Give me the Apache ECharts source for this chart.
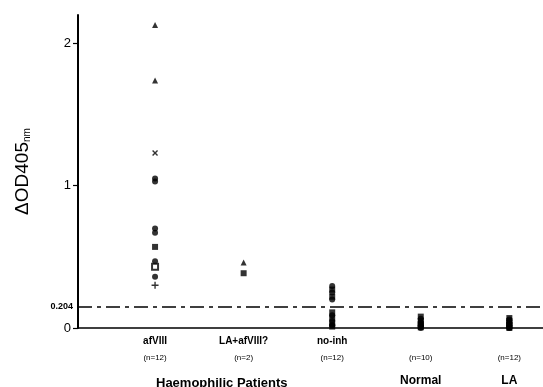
<!DOCTYPE html>
<html><head><meta charset="utf-8">
<script src="https://cdn.jsdelivr.net/npm/echarts@6/dist/echarts.min.js"></script>
<style>html,body{margin:0;padding:0;background:#fff}#c{width:543px;height:387px}</style>
</head><body><div id="c"></div>
<script>
// ---- data ----
var categories = ['afVIII', 'LA+afVIII?', 'no-inh', '', ''];
var counts = ['(n=12)', '(n=2)', '(n=12)', '(n=10)', '(n=12)'];
var groupNames = ['', '', '', 'Normal', 'LA'];
var groupTitle = 'Haemophilic Patients';
var afVIII = [2.13, 1.74, 1.23, 1.05, 1.03, 0.70, 0.67, 0.57, 0.47, 0.43, 0.36, 0.30];
var laAfVIII = [0.46, 0.385];
var noInh = [0.295, 0.27, 0.25, 0.22, 0.20, 0.11, 0.09, 0.07, 0.05, 0.03, 0.02, 0.01];
var normal = [0.08, 0.065, 0.05, 0.04, 0.03, 0.02, 0.015, 0.01, 0.005, 0.0];
var la = [0.07, 0.06, 0.05, 0.04, 0.035, 0.03, 0.02, 0.015, 0.01, 0.005, 0.0, 0.0];
var cutoffLabel = '0.204';
var cutoffDrawn = 0.15;
var yTicks = [0, 1, 2];

// ---- styles ----
var PLUS = 'path://M4,0H6V4H10V6H6V10H4V6H0V4H4Z';
var afSymbols = ['triangle','triangle','x','circle','circle','circle','circle','rect','circle','emptyRect','circle','plus'];
function sym(s){ return s==='plus'||s==='x' ? PLUS : s; }
function pts(idx, vals, syms){
  return vals.map(function(v,i){
    var s = syms ? syms[i % syms.length] : 'rect';
    return {value:[idx, v], symbol: sym(s), symbolRotate: s==='x'?45:0,
            symbolSize: s==='plus'||s==='x'?7:6};
  });
}
var allGroups = [afVIII, laAfVIII, noInh, normal, la];
var groupSyms = [afSymbols, ['triangle','rect'], ['circle','rect'], ['rect','circle'], ['rect','circle']];
var series = allGroups.map(function(g, i){
  return {type:'scatter', data: pts(i, g, groupSyms[i]), itemStyle:{color:'#000'}, silent:true};
});
series[0].markLine = {
  silent:true, symbol:'none',
  lineStyle:{color:'#000', width:1.5, type:[14,5,4,5]},
  label:{position:'start', formatter: cutoffLabel, fontSize:9, fontWeight:'bold', color:'#000', distance:5, fontFamily:'Liberation Sans'},
  data:[{yAxis: cutoffDrawn}]
};

var chart = echarts.init(document.getElementById('c'), null, {renderer:'canvas'});
chart.setOption({
  backgroundColor:'#fff',
  animation:false,
  title:{text: groupTitle, left:151, top:372, textStyle:{fontSize:13, fontWeight:'bold', color:'#000', fontFamily:'Liberation Sans'}},
  grid:{left:78, right:0, top:15, bottom:59},
  xAxis:{
    type:'value', min:-0.87, max:4.38,
    splitLine:{show:false},
    axisLine:{show:true, onZero:false, lineStyle:{color:'#000', width:1.5}},
    axisTick:{show:false},
    axisLabel:{
      customValues:[0,1,2,3,4], margin:7, color:'#000', fontFamily:'Liberation Sans',
      formatter:function(v){
        var i = Math.round(v);
        return '{a|' + (categories[i] || ' ') + '}\n{b|' + counts[i] + '}\n{c|' + (groupNames[i] || ' ') + '}';
      },
      rich:{
        a:{fontSize:10, fontWeight:'bold', lineHeight:12, color:'#000', fontFamily:'Liberation Sans'},
        b:{fontSize:8, lineHeight:22, color:'#000', fontFamily:'Liberation Sans'},
        c:{fontSize:12, fontWeight:'bold', lineHeight:24, color:'#000', fontFamily:'Liberation Sans'}
      }
    }
  },
  yAxis:{
    type:'value', min:0, max:2.2,
    name:'{m|ΔOD405}{s|nm}', nameLocation:'middle', nameGap:46,
    nameTextStyle:{rich:{
      m:{fontSize:19, color:'#000', fontFamily:'Liberation Sans'},
      s:{fontSize:10, color:'#000', fontFamily:'Liberation Sans', verticalAlign:'bottom', padding:[6,0,0,0]}
    }},
    splitLine:{show:false},
    axisLine:{show:true, onZero:false, lineStyle:{color:'#000', width:2}},
    axisTick:{show:true, customValues:yTicks, length:5, lineStyle:{color:'#000', width:1.2}},
    axisLabel:{customValues:yTicks, fontSize:13, color:'#000', margin:7, fontFamily:'Liberation Sans'}
  },
  series: series
});
</script></body></html>
